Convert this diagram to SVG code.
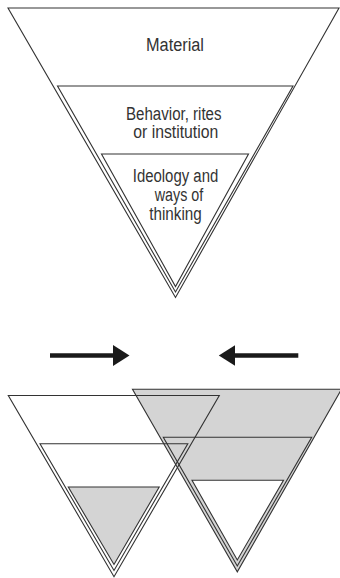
<svg xmlns="http://www.w3.org/2000/svg" width="340" height="578" viewBox="0 0 340 578">
  <defs>
    <style>
      .edge { fill: none; stroke: #333; stroke-width: 1.1; stroke-linejoin: miter; }
      .shade { fill: #d4d4d4; stroke: none; }
      .clear { fill: #ffffff; stroke: none; }
      .label { font-family: "Liberation Sans", Arial, sans-serif; font-size: 18px; fill: #333; text-anchor: middle; }
      .push { stroke: #1a1a1a; stroke-width: 4.3; fill: none; }
    </style>
    <marker id="head" markerUnits="userSpaceOnUse" viewBox="0 0 17 21" markerWidth="17" markerHeight="21" refX="0.5" refY="10.5" orient="auto">
      <path d="M0,0 L16.5,10.5 L0,21 Z" fill="#1a1a1a"/>
    </marker>
  </defs>

  <rect width="340" height="578" fill="#ffffff"/>

  <!-- layered culture model: material / behaviour / ideology -->
  <g id="culture-layers">
    <polygon class="edge" points="8,8 339,8 175.5,297.5"/>
    <polygon class="edge" points="57.5,86 293,86 175.5,292"/>
    <polygon class="edge" points="101.5,154 248.5,154 175.5,286.5"/>
    <text class="label" x="175" y="50.5" textLength="58" lengthAdjust="spacingAndGlyphs">Material</text>
    <text class="label" x="173.8" y="119.5" textLength="95.5" lengthAdjust="spacingAndGlyphs">Behavior, rites</text>
    <text class="label" x="175.8" y="138" textLength="85" lengthAdjust="spacingAndGlyphs">or institution</text>
    <text class="label" x="175.5" y="181.5" textLength="85.5" lengthAdjust="spacingAndGlyphs">Ideology and</text>
    <text class="label" x="179" y="200.5" textLength="48.5" lengthAdjust="spacingAndGlyphs">ways of</text>
    <text class="label" x="175.5" y="220" textLength="52.5" lengthAdjust="spacingAndGlyphs">thinking</text>
  </g>

  <!-- second culture: shaded outer layers, clear core -->
  <g id="culture-b">
    <polygon class="shade" points="132.5,389.3 341.5,389.3 237.3,571.8"/>
    <polygon class="clear" points="192,480.3 283.5,480.3 237.3,560"/>
  </g>

  <!-- first culture: shaded core only -->
  <g id="culture-a">
    <polygon class="shade" points="68.3,487 159.2,487 114,564.5"/>
    <polygon class="edge" points="8.3,395.5 219.3,395.5 114,576.7"/>
    <polygon class="edge" points="40,443.7 187.8,443.7 114,570.5"/>
    <polygon class="edge" points="68.3,487 159.2,487 114,564.5"/>
  </g>

  <g id="culture-b-edges">
    <polygon class="edge" points="132.5,389.3 341.5,389.3 237.3,571.8"/>
    <polygon class="edge" points="163.3,437.3 311.7,437.3 237.3,566"/>
    <polygon class="edge" points="192,480.3 283.5,480.3 237.3,560"/>
  </g>

  <!-- the two cultures pushing toward each other -->
  <g id="connectors">
    <line class="push" x1="50" y1="355.5" x2="113.5" y2="355.5" marker-end="url(#head)"/>
    <line class="push" x1="298.3" y1="355.5" x2="234.8" y2="355.5" marker-end="url(#head)"/>
  </g>
</svg>
